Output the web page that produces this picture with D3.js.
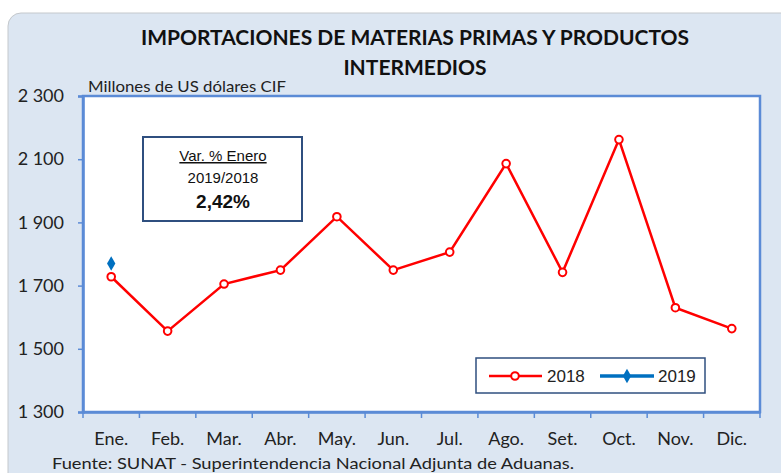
<!DOCTYPE html>
<html>
<head>
<meta charset="utf-8">
<script src="https://cdn.jsdelivr.net/npm/d3@7"></script>
<style>
  body { margin: 0; background: #fff; }
  svg { display: block; }
</style>
</head>
<body>
<div id="chart"></div>
<script>
var months = ["Ene.", "Feb.", "Mar.", "Abr.", "May.", "Jun.", "Jul.", "Ago.", "Set.", "Oct.", "Nov.", "Dic."];
var values2018 = [1728, 1556, 1705, 1749, 1918, 1749, 1806, 2086, 1742, 2162, 1630, 1564];
var values2019 = [1770];
var yTicks = [1300, 1500, 1700, 1900, 2100, 2300];

var width = 781, height = 473;
var margin = { top: 96, right: 21, bottom: 61, left: 83 };
var w = width - margin.left - margin.right;
var h = height - margin.top - margin.bottom;
var axisColor = "#5b8bd6";
var cal = "Lato, 'Open Sans', sans-serif";

var svg = d3.select("#chart").append("svg")
  .attr("width", width)
  .attr("height", height);

// background panel
svg.append("rect")
  .attr("x", 8).attr("y", 13)
  .attr("width", 800).attr("height", 500)
  .attr("rx", 13)
  .attr("fill", "#dce6f2")
  .attr("stroke", "#c4c8cc")
  .attr("stroke-width", 1);

// title
svg.append("text")
  .attr("x", 415).attr("y", 45)
  .attr("text-anchor", "middle")
  .style("font-family", cal)
  .style("font-weight", "bold")
  .style("font-size", "21px")
  .attr("fill", "#111")
  .text("IMPORTACIONES DE MATERIAS PRIMAS Y PRODUCTOS");
svg.append("text")
  .attr("x", 415).attr("y", 75)
  .attr("text-anchor", "middle")
  .style("font-family", cal)
  .style("font-weight", "bold")
  .style("font-size", "21px")
  .attr("fill", "#111")
  .text("INTERMEDIOS");

svg.append("text")
  .attr("x", 88).attr("y", 92)
  .attr("textLength", 198)
  .attr("lengthAdjust", "spacingAndGlyphs")
  .style("font-family", cal)
  .style("font-size", "15px")
  .attr("fill", "#222")
  .text("Millones de US dólares CIF");

var g = svg.append("g")
  .attr("transform", "translate(" + margin.left + "," + margin.top + ")");

var x = d3.scaleBand().domain(months).range([0, w]);
var y = d3.scaleLinear().domain([1300, 2300]).range([h, 0]);

// plot area
g.append("rect")
  .attr("width", w).attr("height", h)
  .attr("fill", "#fff")
  .attr("stroke", axisColor)
  .attr("stroke-width", 2.5);

// y axis
var yAxis = g.append("g")
  .call(d3.axisLeft(y).tickValues(yTicks).tickSize(5).tickPadding(14)
    .tickFormat(function (d) { return d3.format(",")(d).replace(",", " "); }));
yAxis.select(".domain").attr("stroke", axisColor).attr("stroke-width", 2.5);
yAxis.selectAll(".tick line").attr("stroke", axisColor).attr("stroke-width", 1.5);
yAxis.selectAll("text")
  .style("font-family", cal)
  .style("font-size", "18px")
  .attr("fill", "#222");

// x axis
var xAxis = g.append("g")
  .attr("transform", "translate(0," + h + ")")
  .call(d3.axisBottom(x).tickSize(0).tickPadding(20));
xAxis.select(".domain").attr("stroke", axisColor).attr("stroke-width", 2.5);
xAxis.selectAll("text")
  .style("font-family", cal)
  .style("font-size", "18px")
  .attr("fill", "#222");

// x ticks at band boundaries
g.append("g")
  .selectAll("line")
  .data(d3.range(months.length + 1))
  .enter().append("line")
  .attr("x1", function (i) { return i * x.step(); })
  .attr("x2", function (i) { return i * x.step(); })
  .attr("y1", h).attr("y2", h + 6)
  .attr("stroke", axisColor)
  .attr("stroke-width", 1.5);

var cx = function (d, i) { return x(months[i]) + x.bandwidth() / 2; };

// 2018 line
g.append("path")
  .datum(values2018)
  .attr("fill", "none")
  .attr("stroke", "#ff0000")
  .attr("stroke-width", 2.5)
  .attr("d", d3.line().x(cx).y(function (d) { return y(d); }));

g.selectAll(".pt18")
  .data(values2018)
  .enter().append("circle")
  .attr("class", "pt18")
  .attr("cx", cx)
  .attr("cy", function (d) { return y(d); })
  .attr("r", 3.8)
  .attr("fill", "#fff")
  .attr("stroke", "#ff0000")
  .attr("stroke-width", 2);

// 2019 point(s)
var diamond = d3.symbol().type(d3.symbolDiamond).size(60);
g.selectAll(".pt19")
  .data(values2019)
  .enter().append("path")
  .attr("class", "pt19")
  .attr("d", diamond)
  .attr("transform", function (d, i) { return "translate(" + cx(d, i) + "," + y(d) + ")"; })
  .attr("fill", "#0070c0");

// annotation box
var box = svg.append("g").attr("transform", "translate(143,137)");
box.append("rect")
  .attr("width", 159).attr("height", 84)
  .attr("fill", "#fff")
  .attr("stroke", "#2f4f7f")
  .attr("stroke-width", 2);
box.append("text")
  .attr("x", 80).attr("y", 24)
  .attr("text-anchor", "middle")
  .style("font-family", "Arial, 'Liberation Sans', sans-serif")
  .style("font-size", "15px")
  .style("text-decoration", "underline")
  .attr("fill", "#111")
  .text("Var. % Enero");
box.append("text")
  .attr("x", 80).attr("y", 46)
  .attr("text-anchor", "middle")
  .style("font-family", "Arial, 'Liberation Sans', sans-serif")
  .style("font-size", "15px")
  .attr("fill", "#111")
  .text("2019/2018");
box.append("text")
  .attr("x", 80).attr("y", 71)
  .attr("text-anchor", "middle")
  .style("font-family", "Arial, 'Liberation Sans', sans-serif")
  .style("font-size", "19px")
  .style("font-weight", "bold")
  .attr("fill", "#111")
  .text("2,42%");

// legend
var legend = svg.append("g").attr("transform", "translate(476,358)");
legend.append("rect")
  .attr("width", 229).attr("height", 35)
  .attr("fill", "#fff")
  .attr("stroke", "#2f4f7f")
  .attr("stroke-width", 1.5);
legend.append("line")
  .attr("x1", 13).attr("x2", 66).attr("y1", 18).attr("y2", 18)
  .attr("stroke", "#ff0000").attr("stroke-width", 2.5);
legend.append("circle")
  .attr("cx", 39).attr("cy", 18).attr("r", 3.8)
  .attr("fill", "#fff").attr("stroke", "#ff0000").attr("stroke-width", 2);
legend.append("text")
  .attr("x", 71).attr("y", 24)
  .style("font-family", "Arial, 'Liberation Sans', sans-serif")
  .style("font-size", "17px")
  .attr("fill", "#222")
  .text("2018");
legend.append("line")
  .attr("x1", 124).attr("x2", 178).attr("y1", 18).attr("y2", 18)
  .attr("stroke", "#0070c0").attr("stroke-width", 3.5);
legend.append("path")
  .attr("d", diamond)
  .attr("transform", "translate(151,18)")
  .attr("fill", "#0070c0");
legend.append("text")
  .attr("x", 182).attr("y", 24)
  .style("font-family", "Arial, 'Liberation Sans', sans-serif")
  .style("font-size", "17px")
  .attr("fill", "#222")
  .text("2019");

// source
svg.append("text")
  .attr("x", 52).attr("y", 469)
  .attr("textLength", 522)
  .attr("lengthAdjust", "spacingAndGlyphs")
  .style("font-family", cal)
  .style("font-size", "16px")
  .attr("fill", "#222")
  .text("Fuente: SUNAT - Superintendencia Nacional Adjunta de Aduanas.");
</script>
</body>
</html>
